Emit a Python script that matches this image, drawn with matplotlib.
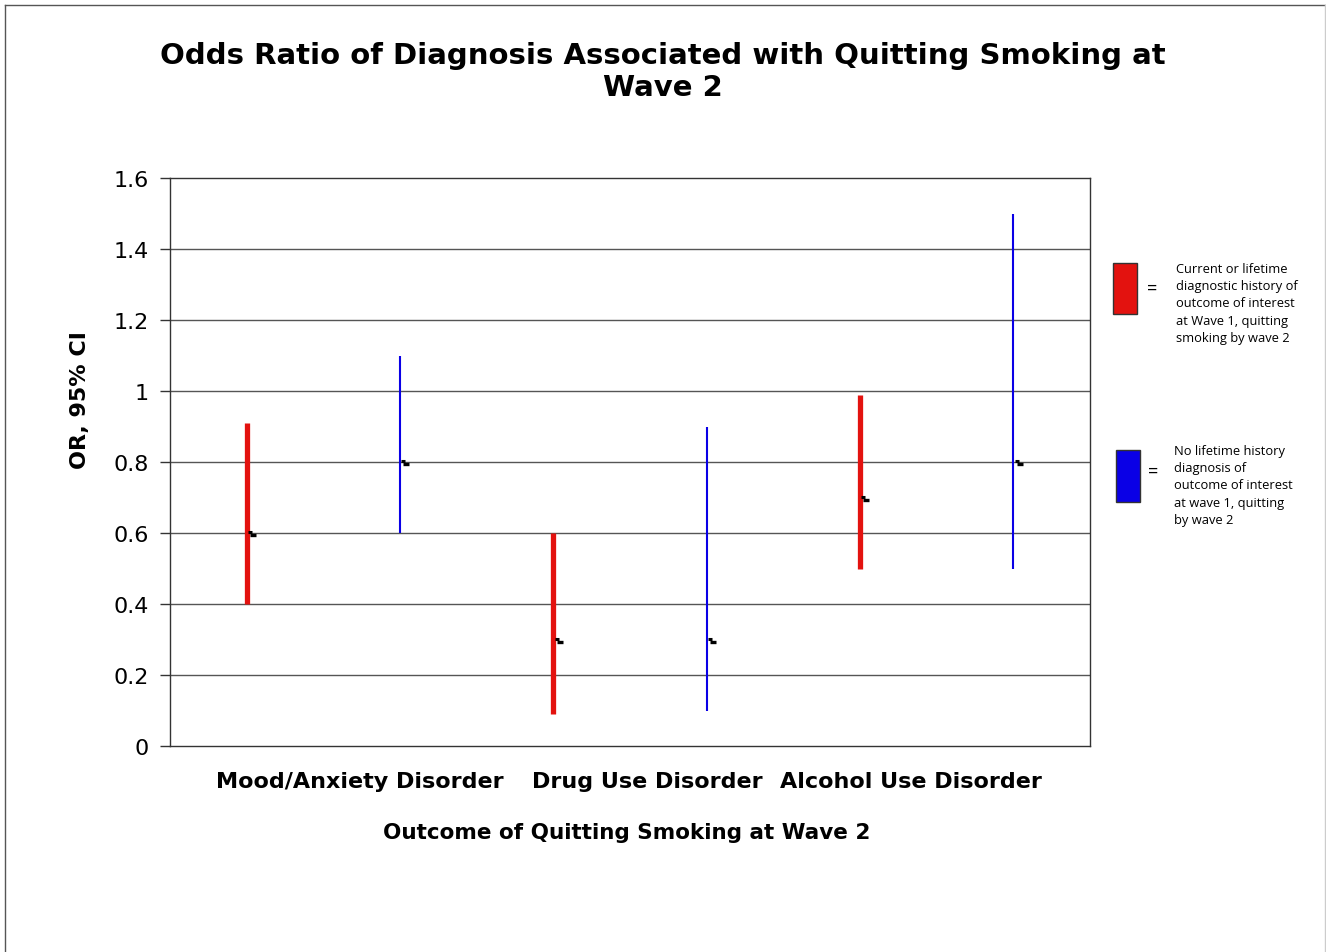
import matplotlib
matplotlib.use("Agg")
import matplotlib.pyplot as plt
import matplotlib.transforms as mtransforms
from matplotlib.patches import Rectangle

# Odds ratios with 95% confidence intervals
groups = ["Mood/Anxiety Disorder", "Drug Use Disorder", "Alcohol Use Disorder"]
series = ["diagnosed", "not_diagnosed"]
or_diagnosed = [0.60, 0.30, 0.70]
lo_diagnosed = [0.40, 0.09, 0.50]
hi_diagnosed = [0.91, 0.60, 0.99]
or_not_diagnosed = [0.80, 0.30, 0.80]
lo_not_diagnosed = [0.60, 0.10, 0.50]
hi_not_diagnosed = [1.10, 0.90, 1.50]
y_ticks = [0, 0.2, 0.4, 0.6, 0.8, 1.0, 1.2, 1.4, 1.6]
y_tick_labels = ["0", "0.2", "0.4", "0.6", "0.8", "1", "1.2", "1.4", "1.6"]

RED = "#e3120f"
BLUE = "#0a00e6"

fig = plt.figure(figsize=(13.26, 9.53), dpi=100)
fig.patch.set_facecolor("white")

# thin frame around the chart area
fig.add_artist(plt.Line2D([5 / 1326, 5 / 1326], [0, 1 - 6 / 953], transform=fig.transFigure,
                          color="#555555", lw=1.0))
fig.add_artist(plt.Line2D([5 / 1326, 1325 / 1326], [1 - 6 / 953, 1 - 6 / 953], transform=fig.transFigure,
                          color="#555555", lw=1.0))
fig.add_artist(plt.Line2D([1325 / 1326, 1325 / 1326], [0, 1 - 6 / 953], transform=fig.transFigure,
                          color="#cccccc", lw=1.0))

left, right, top, bottom = 170, 1090, 179, 747
ax = fig.add_axes([left / 1326, 1 - bottom / 953, (right - left) / 1326, (bottom - top) / 953])
ax.set_xlim(0, 6)
ax.set_ylim(0, 1.6)

for yv in y_ticks[1:-1]:
    ax.axhline(yv, color="#555555", lw=1.0, zorder=1)
for s in ax.spines.values():
    s.set_color("#333333")
    s.set_linewidth(1.0)

ax.set_yticks(y_ticks)
ax.set_yticklabels(y_tick_labels, fontsize=16, family="DejaVu Sans")
ax.tick_params(axis="y", direction="out", length=7, width=1, color="#333333", pad=8.5)
ax.set_xticks([])


def close_marker(x, v):
    t1 = mtransforms.offset_copy(ax.transData, fig=fig, x=3.5, y=1.0, units="dots")
    t2 = mtransforms.offset_copy(ax.transData, fig=fig, x=6.5, y=-2.0, units="dots")
    ax.plot([x], [v], marker="_", ms=2.8, mew=2.2, color="black", transform=t1, zorder=5)
    ax.plot([x], [v], marker="_", ms=4.2, mew=2.4, color="black", transform=t2, zorder=5)


for i in range(len(groups)):
    xr = 2 * i + 0.5
    xb = 2 * i + 1.5
    ax.plot([xr, xr], [lo_diagnosed[i], hi_diagnosed[i]], color=RED, lw=3.8,
            solid_capstyle="butt", zorder=3)
    close_marker(xr, or_diagnosed[i])
    ax.plot([xb, xb], [lo_not_diagnosed[i], hi_not_diagnosed[i]], color=BLUE, lw=1.5,
            solid_capstyle="butt", zorder=3)
    close_marker(xb, or_not_diagnosed[i])

# category labels below the axis
label_px = [360, 647, 911]
for name, px in zip(groups, label_px):
    fig.text(px / 1326, 1 - 782 / 953, name, ha="center", va="center",
             fontsize=16, fontweight="bold", family="DejaVu Sans")

fig.text(627 / 1326, 1 - 833 / 953, "Outcome of Quitting Smoking at Wave 2", ha="center", va="center",
         fontsize=15.5, fontweight="bold", family="DejaVu Sans")
fig.text(80 / 1326, 1 - 400 / 953, "OR, 95% CI", ha="center", va="center", rotation=90,
         fontsize=16, fontweight="bold", family="DejaVu Sans")

fig.text(663 / 1326, 1 - 72 / 953, "Odds Ratio of Diagnosis Associated with Quitting Smoking at\nWave 2",
         ha="center", va="center", fontsize=21, fontweight="bold", family="DejaVu Sans",
         linespacing=1.2)

# legend swatches and descriptions
fig.add_artist(Rectangle((1113 / 1326, 1 - 315 / 953), 24 / 1326, 51 / 953, transform=fig.transFigure,
                         facecolor=RED, edgecolor="#333333", lw=1.0))
fig.text(1152 / 1326, 1 - 289 / 953, "=", ha="center", va="center", fontsize=13, family="Open Sans")
fig.text(1176 / 1326, 1 - 263 / 953,
         "Current or lifetime\ndiagnostic history of\noutcome of interest\nat Wave 1, quitting\nsmoking by wave 2",
         ha="left", va="top", fontsize=9.3, family="Open Sans", linespacing=1.42)

fig.add_artist(Rectangle((1116 / 1326, 1 - 503 / 953), 24 / 1326, 52 / 953, transform=fig.transFigure,
                         facecolor=BLUE, edgecolor="#333333", lw=1.0))
fig.text(1153 / 1326, 1 - 472 / 953, "=", ha="center", va="center", fontsize=13, family="Open Sans")
fig.text(1174 / 1326, 1 - 445 / 953,
         "No lifetime history\ndiagnosis of\noutcome of interest\nat wave 1, quitting\nby wave 2",
         ha="left", va="top", fontsize=9.3, family="Open Sans", linespacing=1.42)

fig.savefig("out.png", dpi=100, facecolor="white")
